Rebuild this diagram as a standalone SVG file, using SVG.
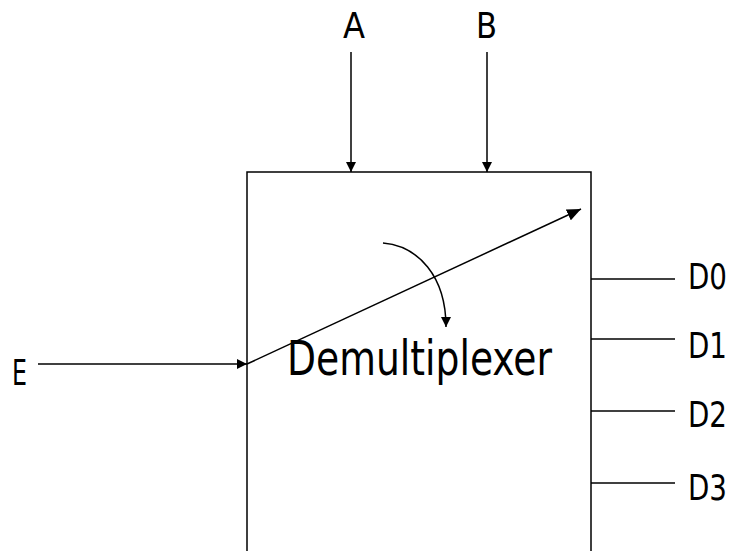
<svg xmlns="http://www.w3.org/2000/svg" width="732" height="551" viewBox="0 0 732 551">
<style>
.ln{stroke:#000;stroke-width:1.5;fill:none}
.lbl{font-family:"DejaVu Sans Condensed","DejaVu Sans","Liberation Sans",sans-serif;font-stretch:condensed;font-size:36px;fill:#000}
.big{font-size:48px}
</style>
<defs>
<marker id="ah" markerWidth="10" markerHeight="10" refX="10" refY="5" orient="auto" markerUnits="userSpaceOnUse" viewBox="0 0 10 10">
<path d="M0,0 L10,5 L0,10 z" fill="#000"/>
</marker>
<marker id="ah2" markerWidth="14" markerHeight="12" refX="14" refY="6" orient="auto" markerUnits="userSpaceOnUse" viewBox="0 0 14 12">
<path d="M0,0 L14,6 L0,12 z" fill="#000"/>
</marker>
</defs>
<rect width="732" height="551" fill="#fff"/>
<g id="demux">
<path class="ln" d="M247,552 V172 H591 V552"/>
<text class="lbl big" x="287" y="375" textLength="265" lengthAdjust="spacingAndGlyphs">Demultiplexer</text>
</g>
<g id="A"><text class="lbl" x="343" y="38" textLength="22" lengthAdjust="spacingAndGlyphs">A</text></g>
<g id="B"><text class="lbl" x="476" y="38" textLength="21" lengthAdjust="spacingAndGlyphs">B</text></g>
<g id="E"><text class="lbl" x="12" y="385" textLength="15" lengthAdjust="spacingAndGlyphs">E</text></g>
<g id="D0"><text class="lbl" x="688" y="289" textLength="39" lengthAdjust="spacingAndGlyphs">D0</text></g>
<g id="D1"><text class="lbl" x="688" y="358" textLength="39" lengthAdjust="spacingAndGlyphs">D1</text></g>
<g id="D2"><text class="lbl" x="688" y="427" textLength="39" lengthAdjust="spacingAndGlyphs">D2</text></g>
<g id="D3"><text class="lbl" x="688" y="500" textLength="39" lengthAdjust="spacingAndGlyphs">D3</text></g>
<g id="connectors">
<line class="ln" x1="351" y1="52" x2="351" y2="172" marker-end="url(#ah)"/>
<line class="ln" x1="487" y1="52" x2="487" y2="172" marker-end="url(#ah)"/>
<line class="ln" x1="38" y1="364" x2="247" y2="364" marker-end="url(#ah)"/>
<line class="ln" x1="247" y1="364" x2="581" y2="209" marker-end="url(#ah2)"/>
<path class="ln" d="M383,243 C418,246 446,276 446,327" marker-end="url(#ah)"/>
<line class="ln" x1="591" y1="279" x2="675" y2="279"/>
<line class="ln" x1="591" y1="339" x2="675" y2="339"/>
<line class="ln" x1="591" y1="411" x2="675" y2="411"/>
<line class="ln" x1="591" y1="483" x2="675" y2="483"/>
</g>
</svg>
